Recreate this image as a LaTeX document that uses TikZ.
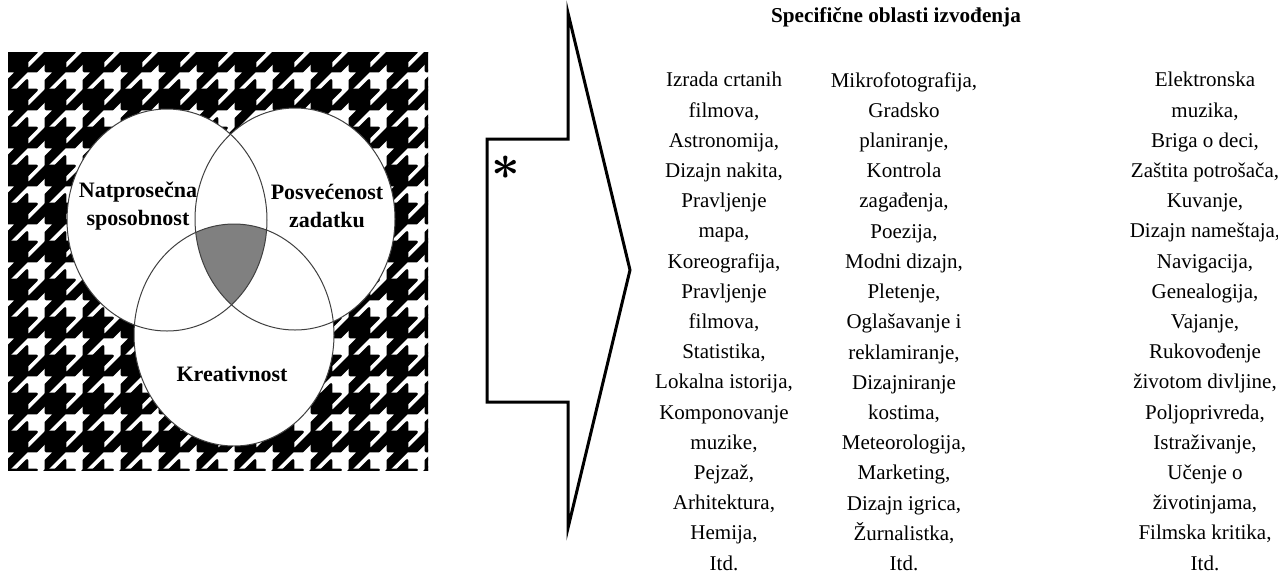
\documentclass[tikz,border=0pt]{standalone}
\usepackage{fontspec}
\setmainfont{Liberation Serif}
\usepackage{tikz}

\tikzset{
  venn/.style={draw=black!75, line width=0.5pt},
  vennlbl/.style={font=\fontsize{11}{14}\selectfont\bfseries, align=center, inner sep=0pt},
  listcol/.style={font=\fontsize{10.5}{15.1}\selectfont, align=center, anchor=north, inner sep=0pt},
}

\begin{document}
\begin{tikzpicture}[x=0.5pt, y=-0.5pt]
  \useasboundingbox (0,0) rectangle (1278,585);

  % HOUNDSTOOTH BACKGROUND
  \begin{scope}
    \clip (8,52) rectangle (428,470);
    \foreach \i in {-1,...,11} \foreach \j in {-1,...,11}
      \filldraw[line width=1.4pt, line join=round, shift={(8+38*\i,52+38*\j)}, scale=4.75]
        (0,0) -- (6,0) -- (4,2) -- (4,4) -- (0,4) -- cycle
        (8,0) -- (8,2) -- (6,4) -- (4,4) -- cycle
        (2,4) -- (4,4) -- (0,8) -- (0,6) -- cycle
        (4,6) -- (4,8) -- (2,8) -- cycle;
  \end{scope}

  % THREE CIRCLES
  \fill[white] (167,220) ellipse [x radius=100, y radius=111];
  \fill[white] (295,219) ellipse [x radius=100, y radius=111];
  \fill[white] (234,335) ellipse [x radius=100, y radius=111];

  % COMMON CORE
  \begin{scope}
    \clip (167,220) ellipse [x radius=100, y radius=111];
    \clip (295,219) ellipse [x radius=100, y radius=111];
    \fill[gray] (234,335) ellipse [x radius=100, y radius=111];
  \end{scope}

  \draw[venn] (167,220) ellipse [x radius=100, y radius=111];
  \draw[venn] (295,219) ellipse [x radius=100, y radius=111];
  \draw[venn] (234,335) ellipse [x radius=100, y radius=111];

  \node[vennlbl] (ability)  at (138,206) {Natprosečna\\sposobnost};
  \node[vennlbl] (task)     at (327,206) {Posvećenost\\zadatku};
  \node[vennlbl] (creative) at (232,374) {Kreativnost};

  % BIG ARROW
  \draw[line width=1.5pt] (487,139) -- (568,139) -- (568,13) -- (630,270)
    -- (568,528) -- (568,402) -- (487,402) -- cycle;
  \node[font=\fontsize{44}{44}\selectfont\boldmath, inner sep=0pt] (star) at (506,168) {$\ast$};

  % AREAS LIST
  \node[font=\fontsize{10.6}{13}\selectfont\bfseries] (title) at (896,17) {Specifične oblasti izvođenja};
  \node[listcol] (colA) at (724,72) {Izrada crtanih\\filmova,\\Astronomija,\\Dizajn nakita,\\Pravljenje\\mapa,\\Koreografija,\\Pravljenje\\filmova,\\Statistika,\\Lokalna istorija,\\Komponovanje\\muzike,\\Pejzaž,\\Arhitektura,\\Hemija,\\Itd.};
  \node[listcol] (colB) at (904,72) {Mikrofotografija,\\Gradsko\\planiranje,\\Kontrola\\zagađenja,\\Poezija,\\Modni dizajn,\\Pletenje,\\Oglašavanje i\\reklamiranje,\\Dizajniranje\\kostima,\\Meteorologija,\\Marketing,\\Dizajn igrica,\\Žurnalistka,\\Itd.};
  \node[listcol] (colC) at (1205,72) {Elektronska\\muzika,\\Briga o deci,\\Zaštita potrošača,\\Kuvanje,\\Dizajn nameštaja,\\Navigacija,\\Genealogija,\\Vajanje,\\Rukovođenje\\životom divljine,\\Poljoprivreda,\\Istraživanje,\\Učenje o\\životinjama,\\Filmska kritika,\\Itd.};
\end{tikzpicture}
\end{document}
